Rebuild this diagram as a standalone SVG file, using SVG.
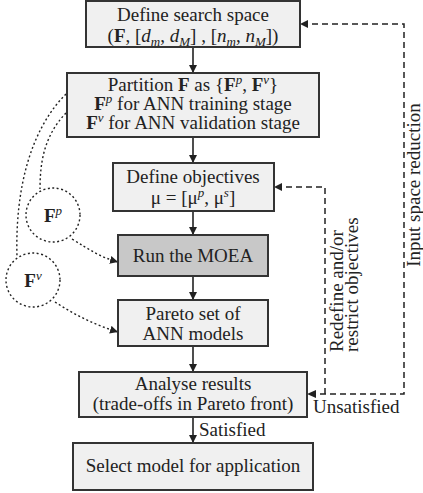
<svg xmlns="http://www.w3.org/2000/svg" width="423" height="493" viewBox="0 0 423 493">
<defs>
<marker id="ah" viewBox="0 0 10 10" refX="10" refY="5" markerWidth="8" markerHeight="8" markerUnits="userSpaceOnUse" orient="auto">
<path d="M0,0 L10,5 L0,10 z" fill="#222"/>
</marker>
<style>
.box{fill:#f0f0f0;stroke:#333;stroke-width:2}
.dark{fill:#c8c8c8}
text{font-family:"Liberation Serif","Times New Roman",serif;font-size:19px;fill:#222}
.c{text-anchor:middle}
.b{font-weight:bold}
.i{font-style:italic}
.s{font-size:13px}
.solid{stroke:#222;stroke-width:1.6;fill:none}
.dash{stroke:#222;stroke-width:1.5;fill:none;stroke-dasharray:6,4}
.dot{stroke:#222;stroke-width:1.4;fill:none;stroke-dasharray:2,2.5}
</style>
</defs>
<g id="connectors">
<path class="solid" d="M193,47 V73" marker-end="url(#ah)"/>
<path class="solid" d="M193,137 V163" marker-end="url(#ah)"/>
<path class="solid" d="M193,211 V235" marker-end="url(#ah)"/>
<path class="solid" d="M193,276 V300" marker-end="url(#ah)"/>
<path class="solid" d="M193,346 V372" marker-end="url(#ah)"/>
<path class="solid" d="M193,417 V443" marker-end="url(#ah)"/>
<path class="dash" d="M310,394 H404 V24 H300" marker-end="url(#ah)"/>
<path class="dash" d="M325,394 V187 H274" marker-end="url(#ah)"/>
<path d="M307,394 L316,390 L316,398 z" fill="#222"/>
<path class="dot" d="M66,94 C30,130 15,190 17,257"/>
<path class="dot" d="M66,113 C45,135 40,160 40,189"/>
<path class="dot" d="M72,239 C90,250 100,257 118,262" marker-end="url(#ah)"/>
<path class="dot" d="M55,302 C75,315 95,325 118,332" marker-end="url(#ah)"/>
<text transform="translate(420,185) rotate(-90)" class="c">Input space reduction</text>
<text transform="translate(343,352) rotate(-90)">Redefine and/or</text>
<text transform="translate(358,352) rotate(-90)">restrict objectives</text>
<text x="313" y="413">Unsatisfied</text>
<text x="199" y="436">Satisfied</text>
</g>
<g id="n1">
<rect class="box" x="86" y="1" width="214" height="46"/>
<text x="193" y="21" class="c">Define search space</text>
<text x="193" y="42" class="c">(<tspan class="b">F</tspan>, [<tspan class="i">d</tspan><tspan class="i s" dy="4">m</tspan><tspan dy="-4">, </tspan><tspan class="i">d</tspan><tspan class="i s" dy="4">M</tspan><tspan dy="-4">] , [</tspan><tspan class="i">n</tspan><tspan class="i s" dy="4">m</tspan><tspan dy="-4">, </tspan><tspan class="i">n</tspan><tspan class="i s" dy="4">M</tspan><tspan dy="-4">])</tspan></text>
</g>
<g id="n2">
<rect class="box" x="67" y="73" width="252" height="64"/>
<text x="193" y="91" class="c">Partition <tspan class="b">F</tspan> as {<tspan class="b">F</tspan><tspan class="i s" dy="-7">p</tspan><tspan dy="7">, </tspan><tspan class="b">F</tspan><tspan class="i s" dy="-7">v</tspan><tspan dy="7">}</tspan></text>
<text x="193" y="110" class="c"><tspan class="b">F</tspan><tspan class="i s" dy="-7">p</tspan><tspan dy="7"> for ANN training stage</tspan></text>
<text x="193" y="129" class="c"><tspan class="b">F</tspan><tspan class="i s" dy="-7">v</tspan><tspan dy="7"> for ANN validation stage</tspan></text>
</g>
<g id="n3">
<rect class="box" x="113" y="163" width="161" height="48"/>
<text x="193" y="183" class="c">Define objectives</text>
<text x="193" y="204" class="c">μ = [μ<tspan class="i s" dy="-7">p</tspan><tspan dy="7">, μ</tspan><tspan class="i s" dy="-7">s</tspan><tspan dy="7">]</tspan></text>
</g>
<g id="n4">
<rect class="box dark" x="118" y="235" width="150" height="41"/>
<text x="193" y="262" class="c">Run the MOEA</text>
</g>
<g id="n5">
<rect class="box" x="118" y="300" width="150" height="46"/>
<text x="193" y="320" class="c">Pareto set of</text>
<text x="193" y="340" class="c">ANN models</text>
</g>
<g id="n6">
<rect class="box" x="79" y="372" width="228" height="45"/>
<text x="193" y="390" class="c">Analyse results</text>
<text x="193" y="410" class="c">(trade-offs in Pareto front)</text>
</g>
<g id="n7">
<rect class="box" x="73" y="443" width="240" height="47"/>
<text x="193" y="472" class="c">Select model for application</text>
</g>
<g id="fp">
<circle class="dot" cx="53" cy="215" r="27"/>
<text x="53" y="222" class="c"><tspan class="b">F</tspan><tspan class="i s" dy="-7">p</tspan></text>
</g>
<g id="fv">
<circle class="dot" cx="33" cy="280" r="27"/>
<text x="33" y="287" class="c"><tspan class="b">F</tspan><tspan class="i s" dy="-7">v</tspan></text>
</g>
</svg>
